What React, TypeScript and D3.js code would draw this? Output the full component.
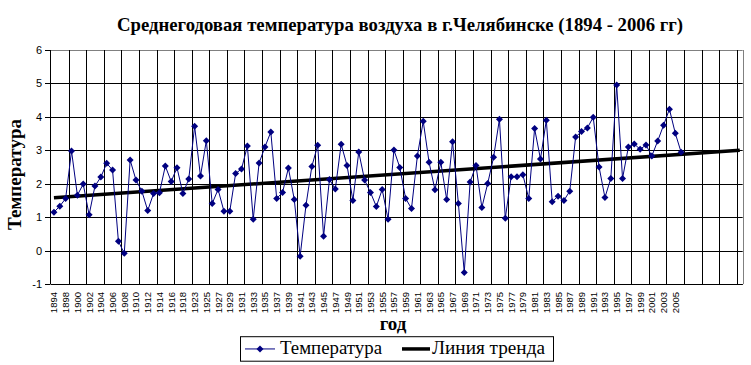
import React from "react";
import * as d3 from "d3";

const years: number[] = [
  1894, 1896, 1898, 1899, 1900, 1901, 1902, 1903, 1904, 1905, 1906, 1907, 1908, 1909, 1910, 1911,
  1912, 1913, 1914, 1915, 1916, 1917, 1918, 1922, 1923, 1924, 1925, 1926, 1927, 1928, 1929, 1930,
  1931, 1932, 1933, 1934, 1935, 1936, 1937, 1938, 1939, 1940, 1941, 1942, 1943, 1944, 1945, 1946,
  1947, 1948, 1949, 1950, 1951, 1952, 1953, 1954, 1955, 1956, 1957, 1958, 1959, 1960, 1961, 1962,
  1963, 1964, 1965, 1966, 1967, 1968, 1969, 1970, 1971, 1972, 1973, 1974, 1975, 1976, 1977, 1978,
  1979, 1980, 1981, 1982, 1983, 1984, 1985, 1986, 1987, 1988, 1989, 1990, 1991, 1992, 1993, 1994,
  1995, 1996, 1997, 1998, 1999, 2000, 2001, 2002, 2003, 2004, 2005, 2006,
];

const temps: number[] = [
  1.15, 1.33, 1.56, 2.98, 1.66, 1.99, 1.07, 1.93, 2.2, 2.61, 2.41, 0.28, -0.08, 2.71, 2.11, 1.78,
  1.2, 1.71, 1.73, 2.53, 2.07, 2.48, 1.71, 2.14, 3.72, 2.23, 3.29, 1.41, 1.83, 1.18, 1.18, 2.31,
  2.44, 3.13, 0.94, 2.62, 3.1, 3.55, 1.56, 1.74, 2.47, 1.53, -0.17, 1.36, 2.52, 3.15, 0.43, 2.13,
  1.84, 3.18, 2.55, 1.5, 2.95, 2.11, 1.74, 1.32, 1.83, 0.94, 3.01, 2.49, 1.56, 1.26, 2.83, 3.87,
  2.64, 1.82, 2.64, 1.53, 3.26, 1.41, -0.65, 2.05, 2.55, 1.29, 2.01, 2.79, 3.93, 0.97, 2.21, 2.21,
  2.27, 1.56, 3.65, 2.74, 3.9, 1.46, 1.63, 1.5, 1.78, 3.4, 3.56, 3.67, 3.99, 2.5, 1.59, 2.16,
  4.95, 2.16, 3.1, 3.19, 3.03, 3.16, 2.83, 3.28, 3.75, 4.23, 3.51, 2.94,
];

// trend line series: end points (category index, value)
const trendCats: number[] = [0, 117];
const trendVals: number[] = [1.58, 3.0];

const extraCategories = 10; // empty categories after the data (trend extension)
const yTicks: number[] = [-1, 0, 1, 2, 3, 4, 5, 6];

const title = "Среднегодовая температура воздуха в г.Челябинске (1894 - 2006 гг)";
const yTitle = "Температура";
const xTitle = "год";
const seriesName = "Температура";
const trendName = "Линия тренда";

const W = 751;
const H = 365;
const plot = { left: 51, right: 742.7, top: 50, bottom: 284.1 };
const serif = "'Liberation Serif', 'Times New Roman', serif";
const sans = "'Liberation Sans', Arial, sans-serif";
const navy = "#000080";

export default function App() {
  const nCat = years.length + extraCategories;
  const cats = d3.range(nCat);
  const labels = cats.map((i) => (i < years.length && i % 2 === 0 ? String(years[i]) : ""));
  const x = d3.scaleBand<number>().domain(cats).range([plot.left, plot.right]).padding(0);
  const bw = x.bandwidth();
  const cx = (i: number) => (x(i) as number) + bw / 2;
  const y = d3.scaleLinear().domain([-1, 6]).range([plot.bottom, plot.top]);

  const line = d3
    .line<number>()
    .x((_, i) => cx(i))
    .y((d) => y(d));
  const trendLine = d3
    .line<number>()
    .x((_, i) => cx(trendCats[i]))
    .y((d) => y(d));

  const gridCats = cats.filter((i) => i > 0 && i % 3 === 0);
  const r = 3.5;
  const diamond = (px: number, py: number) =>
    `M${px},${py - r}L${px + r},${py}L${px},${py + r}L${px - r},${py}Z`;

  const legend = { x: 240, y: 336.7, w: 313, h: 24.5 };
  const ly = legend.y + legend.h / 2;

  return (
    <svg
      width={W}
      height={H}
      style={{ position: "absolute", left: 0, top: 0, background: "#fff" }}
    >
      <rect x={0} y={0} width={W} height={H} fill="#fff" />
      <text
        x={400}
        y={31}
        textAnchor="middle"
        fontFamily={serif}
        fontWeight="bold"
        fontSize={19}
        textLength={566}
        lengthAdjust="spacingAndGlyphs"
      >
        {title}
      </text>

      {/* horizontal gridlines */}
      {yTicks.map((t) => (
        <line
          key={"h" + t}
          x1={plot.left}
          x2={plot.right}
          y1={Math.round(y(t)) + 0.5}
          y2={Math.round(y(t)) + 0.5}
          stroke={t === 6 ? "#808080" : "#000"}
          strokeWidth={1}
        />
      ))}
      {/* vertical gridlines */}
      {gridCats.map((i) => (
        <line
          key={"v" + i}
          x1={Math.round(x(i) as number) + 0.5}
          x2={Math.round(x(i) as number) + 0.5}
          y1={plot.top}
          y2={plot.bottom}
          stroke="#000"
          strokeWidth={1}
        />
      ))}
      {/* right border */}
      <line
        x1={Math.round(plot.right) + 0.5}
        x2={Math.round(plot.right) + 0.5}
        y1={plot.top}
        y2={plot.bottom}
        stroke="#808080"
      />
      {/* axes */}
      <line x1={50.5} x2={50.5} y1={plot.top} y2={plot.bottom} stroke="#000" />
      <line
        x1={plot.left}
        x2={plot.right}
        y1={Math.round(y(-1)) + 0.5}
        y2={Math.round(y(-1)) + 0.5}
        stroke="#000"
      />
      {yTicks.map((t) => (
        <g key={"yt" + t}>
          <line
            x1={45}
            x2={50.5}
            y1={Math.round(y(t)) + 0.5}
            y2={Math.round(y(t)) + 0.5}
            stroke="#000"
          />
          <text
            x={42}
            y={y(t) + 4}
            textAnchor="end"
            fontFamily={sans}
            fontSize={11}
          >
            {t}
          </text>
        </g>
      ))}
      {labels.map((l, i) =>
        l ? (
          <text
            key={"xl" + i}
            transform={`translate(${cx(i) + 3.5},292) rotate(-90)`}
            textAnchor="end"
            fontFamily={sans}
            fontSize={9.5}
          >
            {l}
          </text>
        ) : null
      )}

      {/* trend */}
      <path d={trendLine(trendVals) || ""} fill="none" stroke="#000" strokeWidth={3.5} />
      {/* data */}
      <path d={line(temps) || ""} fill="none" stroke={navy} strokeWidth={1} />
      {temps.map((v, i) => (
        <path key={"m" + i} d={diamond(cx(i), y(v))} fill={navy} />
      ))}

      {/* axis titles */}
      <text
        transform={`translate(21,174.5) rotate(-90)`}
        textAnchor="middle"
        fontFamily={serif}
        fontWeight="bold"
        fontSize={19}
      >
        {yTitle}
      </text>
      <text
        x={393}
        y={330}
        textAnchor="middle"
        fontFamily={serif}
        fontWeight="bold"
        fontSize={19}
      >
        {xTitle}
      </text>

      {/* legend */}
      <rect
        x={legend.x + 0.5}
        y={legend.y}
        width={legend.w}
        height={legend.h}
        fill="#fff"
        stroke="#000"
      />
      <line x1={245} x2={275} y1={ly} y2={ly} stroke={navy} />
      <path d={diamond(260, ly)} fill={navy} />
      <text
        x={280}
        y={ly + 5.5}
        fontFamily={serif}
        fontSize={18}
        textLength={102}
        lengthAdjust="spacingAndGlyphs"
      >
        {seriesName}
      </text>
      <line x1={402} x2={430} y1={ly} y2={ly} stroke="#000" strokeWidth={3.5} />
      <text
        x={432}
        y={ly + 5.5}
        fontFamily={serif}
        fontSize={18}
        textLength={113}
        lengthAdjust="spacingAndGlyphs"
      >
        {trendName}
      </text>
    </svg>
  );
}
